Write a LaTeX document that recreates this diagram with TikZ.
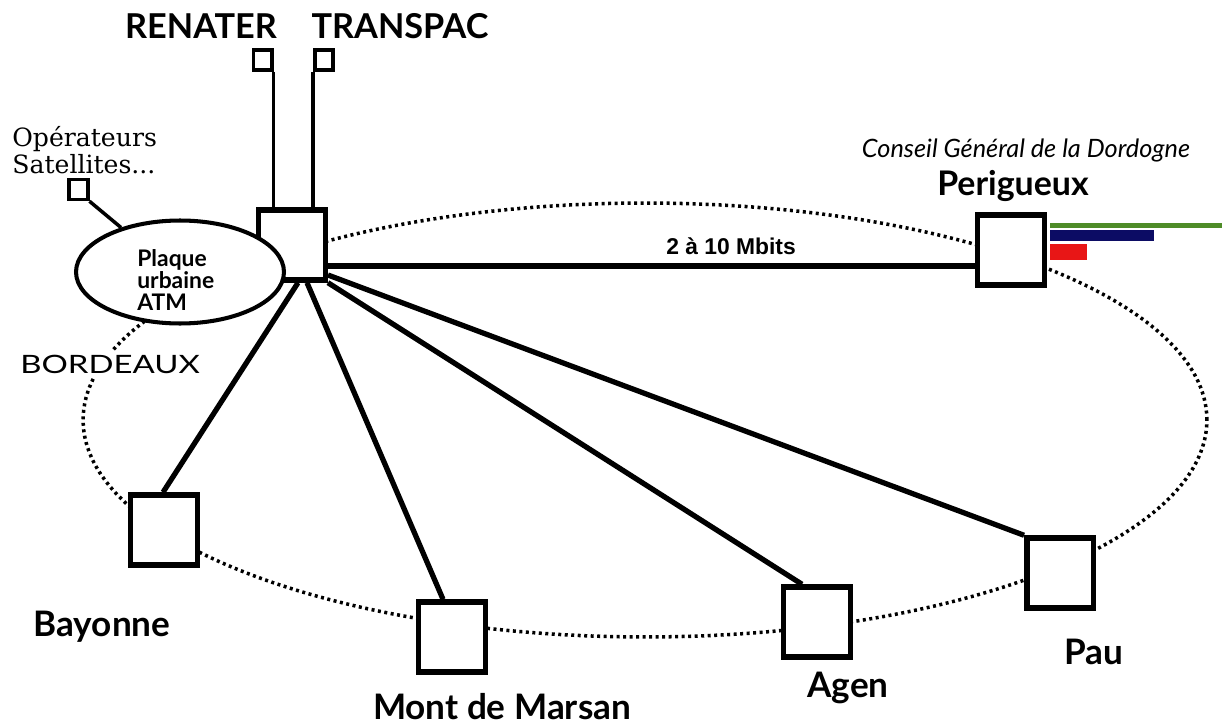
\documentclass[tikz,border=0pt]{standalone}
\usepackage{fontspec}
\usepackage{graphicx}
\usetikzlibrary{shapes.geometric,calc}
\setmainfont{Lato}
\newfontfamily\helv{Liberation Sans}
\newfontfamily\dvserif{DejaVu Serif}
\definecolor{bargreen}{RGB}{78,140,40}
\definecolor{barnavy}{RGB}{12,12,100}
\definecolor{barred}{RGB}{232,22,22}
\pgfdeclarelayer{bg}
\pgfsetlayers{bg,main}
\begin{document}
\begin{tikzpicture}[x=0.02cm,y=-0.02cm,
  site/.style={draw,line width=3.1pt,fill=white,minimum width=1.33cm,minimum height=1.4cm,inner sep=0pt},
  smallbox/.style={draw,line width=2pt,fill=white,minimum width=0.37cm,minimum height=0.4cm,inner sep=0pt},
  link/.style={line width=3pt},
  thinlink/.style={line width=2pt},
  ring/.style={draw,ellipse,line width=2pt,dash pattern=on 1.7pt off 2pt,minimum width=22.48cm,minimum height=8.68cm,inner sep=0pt},
  city/.style={font=\bfseries\fontsize{20}{22}\selectfont,inner sep=0pt},
  lbl/.style={inner sep=0pt}]
\useasboundingbox (0,0) rectangle (1222,726);

% sites
\node[site] (hub) at (292,245) {};
\node[draw,ellipse,line width=2.3pt,fill=white,minimum width=4.16cm,minimum height=2.06cm,inner sep=0pt] (plaque) at (180,272) {};
\node[site] (peri) at (1011,250) {};
\node[site] (bay) at (164,530) {};
\node[site] (mdm) at (452,637) {};
\node[site] (agen) at (817,622) {};
\node[site] (pau) at (1060,573) {};
\node[smallbox] (ren) at (262.5,60) {};
\node[smallbox] (trans) at (324,60) {};
\node[smallbox] (sat) at (78.5,189.5) {};

% background ring and links
\begin{pgfonlayer}{bg}
\node[ring] (ringnode) at (645,420) {};
\draw[link] ($(hub.south)+(6,0)$) -- ($(bay.north)+(-1,0)$);
\draw[link] ($(hub.south)+(15,0)$) -- ($(mdm.north)+(-9,0)$);
\draw[link] (hub.south east) -- ($(agen.north)+(-15,0)$);
\draw[link] ($(hub.east)+(0,30)$) -- (pau.north west);
\draw[link] ($(hub.east)+(0,21)$) -- ($(peri.west)+(0,16)$);
\draw[thinlink] (ren.south east) -- (ren.south east |- hub.north);
\draw[thinlink] (trans.south west) -- (trans.south west |- hub.north);
\draw[thinlink] (sat.south east) -- (plaque.143);
\end{pgfonlayer}

% bars
\fill[bargreen] (1050,223) rectangle (1222,227.5);
\fill[barnavy] (1050,230) rectangle (1154,241);
\fill[barred] (1050,244) rectangle (1087,260);

% texts
\node[lbl,font=\bfseries\fontsize{13}{12.5}\selectfont,align=left,anchor=west] (plaquetxt) at (137,280) {Plaque\\urbaine\\ATM};
\node[lbl,font=\bfseries\fontsize{19.5}{21}\selectfont] (renlbl) at (201,26) {RENATER};
\node[lbl,font=\bfseries\fontsize{19.5}{21}\selectfont] (translbl) at (400,26) {TRANSPAC};
\node[lbl,font=\dvserif\fontsize{14.3}{15}\selectfont,align=left,anchor=west] (satlbl) at (12,150) {Opérateurs\\Satellites...};
\node[lbl,fill=white,inner sep=2pt] (bordlbl) at (110,364) {\scalebox{1.3}[1]{\fontsize{14.4}{16}\selectfont BORDEAUX}};
\node[lbl,font=\itshape\fontsize{14.4}{16}\selectfont] (cglbl) at (1026,150) {Conseil Général de la Dordogne};
\node[lbl,font=\bfseries\fontsize{19.3}{21}\selectfont] (perilbl) at (1013,186) {Perigueux};
\node[lbl,font=\helv\bfseries\fontsize{13}{14}\selectfont] (mbits) at (731,246) {2 à 10 Mbits};
\node[city] (baylbl) at (102,627) {Bayonne};
\node[city] (mdmlbl) at (502,707) {Mont de Marsan};
\node[city] (agenlbl) at (848,688) {Agen};
\node[city] (paulbl) at (1094,652) {Pau};
\end{tikzpicture}
\end{document}
